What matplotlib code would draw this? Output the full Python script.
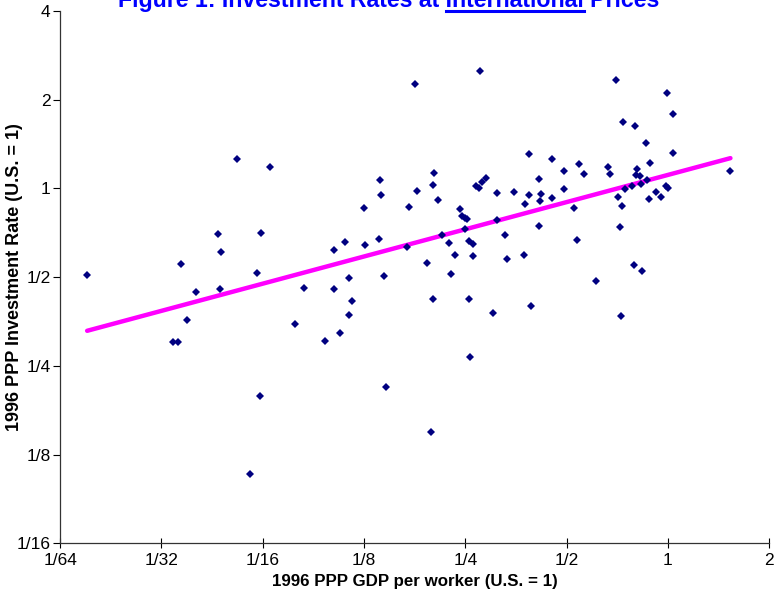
import numpy as np
import matplotlib.pyplot as plt
from matplotlib.lines import Line2D

# 1996 PPP GDP per worker, relative to the U.S. (= 1)
gdp_per_worker = [
    0.0188, 0.0525, 0.0658, 0.0460, 0.0616, 0.0471, 0.0358, 0.0600, 0.0397, 0.0468,
    0.0831, 0.0372, 0.0338, 0.0351, 0.0779, 0.0612, 0.0574,
    0.276, 0.177, 0.202, 0.139, 0.201, 0.180, 0.268, 0.274, 0.281, 0.288,
    0.310, 0.348, 0.140, 0.207, 0.125, 0.170, 0.241, 0.245, 0.249, 0.252,
    0.250, 0.310, 0.329, 0.213, 0.138, 0.110, 0.126, 0.168, 0.223, 0.257,
    0.264, 0.102, 0.233, 0.264, 0.333, 0.192, 0.227, 0.143, 0.113, 0.102,
    0.115, 0.200, 0.257, 0.113, 0.303, 0.096, 0.106, 0.258, 0.145, 0.198,
    0.703, 0.996, 1.033, 0.737, 0.796, 0.860, 1.033, 0.386, 0.452, 0.544,
    0.663, 0.492, 0.886, 0.564, 0.672, 0.809, 0.806, 0.828, 0.866, 0.834,
    0.784, 0.744, 1.533, 0.989, 1.003, 0.919, 0.953, 0.880, 0.414, 0.492,
    0.386, 0.420, 0.417, 0.451, 0.376, 0.709, 0.730, 0.524, 0.413, 0.722,
    0.537, 0.373, 0.611, 0.791, 0.839, 0.391, 0.725,
]

# 1996 PPP investment rate, relative to the U.S. (= 1)
investment_rate = [
    0.507, 1.257, 1.178, 0.698, 0.705, 0.608, 0.553, 0.515, 0.445, 0.456,
    0.458, 0.359, 0.302, 0.302, 0.347, 0.198, 0.107,
    2.507, 2.253, 1.127, 1.064, 1.029, 0.977, 1.018, 1.000, 1.050, 1.081,
    0.964, 0.969, 0.951, 0.911, 0.855, 0.864, 0.849, 0.805, 0.796, 0.785,
    0.729, 0.779, 0.696, 0.692, 0.673, 0.659, 0.642, 0.634, 0.652, 0.661,
    0.647, 0.616, 0.592, 0.588, 0.578, 0.558, 0.513, 0.503, 0.498, 0.454,
    0.416, 0.423, 0.422, 0.372, 0.378, 0.304, 0.322, 0.267, 0.212, 0.149,
    2.331, 2.106, 1.787, 1.683, 1.627, 1.425, 1.315, 1.307, 1.254, 1.206,
    1.184, 1.147, 1.221, 1.116, 1.118, 1.163, 1.107, 1.101, 1.067, 1.032,
    1.016, 0.992, 1.147, 1.018, 1.005, 0.969, 0.932, 0.920, 1.073, 0.992,
    0.949, 0.956, 0.906, 0.925, 0.886, 0.936, 0.869, 0.855, 0.743, 0.737,
    0.668, 0.592, 0.485, 0.550, 0.524, 0.398, 0.368,
]

x_ticks = [1/64, 1/32, 1/16, 1/8, 1/4, 1/2, 1, 2]
x_tick_labels = ['1/64', '1/32', '1/16', '1/8', '1/4', '1/2', '1', '2']
y_ticks = [1/16, 1/8, 1/4, 1/2, 1, 2, 4]
y_tick_labels = ['1/16', '1/8', '1/4', '1/2', '1', '2', '4']

title_parts = ['Figure 1: Investment Rates at ', 'International', ' Prices']

plain = ['Liberation Sans', 'DejaVu Sans']

W, H = 774, 593
fig = plt.figure(figsize=(W / 100, H / 100), dpi=100)
ax = fig.add_axes([60.1 / W, 1 - 543.3 / H, (769.3 - 60.1) / W, (543.3 - 10.9) / H])
renderer = fig.canvas.get_renderer()

x = np.array(gdp_per_worker)
y = np.array(investment_rate)

# regression line in log-log space
slope, intercept = np.polyfit(np.log2(x), np.log2(y), 1)
xs = np.array([x.min(), x.max()])
ax.plot(xs, 2 ** (intercept + slope * np.log2(xs)), color='#ff00ff', lw=3.2,
        solid_capstyle='round', zorder=2)

ax.plot(x, y, 'D', color='#000080', ms=3.8, mew=0, zorder=3, linestyle='none')

ax.set_xscale('log', base=2)
ax.set_yscale('log', base=2)
ax.set_xlim(1/64, 2)
ax.set_ylim(1/16, 4)
ax.set_xticks(x_ticks)
ax.set_xticklabels(x_tick_labels)
ax.set_yticks(y_ticks)
ax.set_yticklabels(y_tick_labels)
ax.minorticks_off()

for lab in ax.get_xticklabels() + ax.get_yticklabels():
    lab.set_family(plain)
    lab.set_fontsize(12.5)

ax.tick_params(axis='x', direction='inout', length=7.5, width=0.8, pad=3, colors='black')
ax.tick_params(axis='y', direction='out', length=5, width=0.8, pad=2, colors='black')

for side in ['top', 'right']:
    ax.spines[side].set_visible(False)
for side in ['left', 'bottom']:
    ax.spines[side].set_color('#333333')
    ax.spines[side].set_linewidth(0.9)

ax.set_xlabel('1996 PPP GDP per worker (U.S. = 1)', family=plain,
              fontweight='bold', fontsize=12.2)
ax.xaxis.set_label_coords(0.5, -0.058)
ax.set_ylabel('1996 PPP Investment Rate (U.S. = 1)', family=plain,
              fontweight='bold', fontsize=13)
ax.yaxis.set_label_coords(-0.052, 0.5)

# title with underlined middle word, centred on the figure
tkw = dict(family=plain, fontweight='bold', color='#0000ff')


def text_width(s, size):
    t = fig.text(0, 0, s, fontsize=size, **tkw)
    w = t.get_window_extent(renderer).width
    t.remove()
    return w


full = ''.join(title_parts)
size = 14 * 545 / text_width(full, 14)
left = 389 - text_width(full, size) / 2
base = H - 7
fig.text(left / W, base / H, full, va='baseline', ha='left', fontsize=size, **tkw)
u0 = left + text_width(title_parts[0] + 'I', size) - text_width('I', size)
u1 = left + text_width(title_parts[0] + title_parts[1], size)
fig.add_artist(Line2D([u0 / W, u1 / W], [(base - 4) / H, (base - 4) / H],
                      transform=fig.transFigure, color='#0000ff', lw=2.2))

fig.savefig('out.png', dpi=100)
